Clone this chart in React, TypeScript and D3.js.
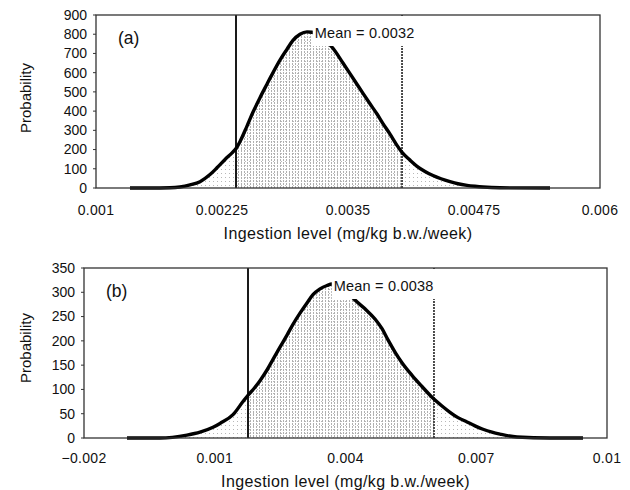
import React from 'react';
import * as d3 from 'd3';

// panel (a)
const xA = [0.001337, 0.001536, 0.001734, 0.001833, 0.001933, 0.002032, 0.002131, 0.0022, 0.00228, 0.002359, 0.002389, 0.002429, 0.002498, 0.002558, 0.002627, 0.002696, 0.002756, 0.002825, 0.002895, 0.002954, 0.003024, 0.003093, 0.003143, 0.003222, 0.003351, 0.00345, 0.00352, 0.003589, 0.003649, 0.003718, 0.003788, 0.003847, 0.003917, 0.003986, 0.004036, 0.004115, 0.004185, 0.004264, 0.004343, 0.004423, 0.004512, 0.004591, 0.004681, 0.00476, 0.004839, 0.005008, 0.005504];
const probA = [0, 0, 1, 5, 16, 33, 70, 105, 148, 188, 205, 242, 322, 395, 470, 540, 600, 665, 722, 768, 800, 812, 810, 790, 727, 650, 595, 540, 492, 438, 385, 335, 280, 222, 185, 145, 113, 86, 65, 48, 33, 22, 14, 9, 5, 1, 0];
const xTicksA = [0.001, 0.00225, 0.0035, 0.00475, 0.006];
const xTickLabelsA = ['0.001', '0.00225', '0.0035', '0.00475', '0.006'];
const yTicksA = [0, 100, 200, 300, 400, 500, 600, 700, 800, 900];
const boundsA = [0.002389, 0.004036];
const meanA = 0.0032;

// panel (b)
const xB = [-0.001013, -0.000256, 0.000363, 0.000662, 0.00096, 0.00112, 0.001419, 0.001648, 0.001763, 0.001901, 0.002038, 0.002199, 0.002337, 0.002497, 0.002658, 0.002795, 0.002956, 0.003117, 0.003254, 0.003415, 0.003576, 0.00369, 0.003874, 0.004034, 0.004218, 0.004447, 0.004677, 0.004838, 0.004975, 0.005136, 0.005296, 0.005526, 0.005755, 0.005985, 0.006214, 0.006398, 0.006581, 0.006788, 0.006971, 0.007155, 0.007361, 0.007545, 0.007935, 0.008692, 0.009449];
const probB = [0, 0, 6, 12, 22, 30, 48, 75, 88, 102, 118, 140, 162, 187, 212, 234, 257, 278, 295, 307, 314, 317, 314, 302, 284, 266, 245, 225, 202, 177, 155, 129, 106, 84, 66, 53, 42, 33, 25, 18, 12, 8, 2, 0, 0];
const xTicksB = [-0.002, 0.001, 0.004, 0.007, 0.01];
const xTickLabelsB = ['\u22120.002', '0.001', '0.004', '0.007', '0.01'];
const yTicksB = [0, 50, 100, 150, 200, 250, 300, 350];
const boundsB = [0.001763, 0.00603];
const meanB = 0.0038;

const FONT = '"Liberation Sans", Arial, sans-serif';

type PanelProps = {
  id: string;
  tag: string;
  xs: number[];
  ys: number[];
  xTicks: number[];
  xTickLabels: string[];
  yTicks: number[];
  bounds: number[];
  mean: number;
  left: number;
  right: number;
  top: number;
  bottom: number;
  tickLabelY: number;
  titleY: number;
  yTitleY: number;
};

const Panel = (p: PanelProps) => {
  const x = d3.scaleLinear().domain([p.xTicks[0], p.xTicks[p.xTicks.length - 1]]).range([p.left, p.right]);
  const y = d3.scaleLinear().domain([0, p.yTicks[p.yTicks.length - 1]]).range([p.bottom, p.top]);
  const pts = p.xs.map((v, i) => [v, p.ys[i]] as [number, number]);

  const line = d3.line<[number, number]>().x(d => x(d[0])).y(d => y(d[1])).curve(d3.curveMonotoneX);
  const area = d3.area<[number, number]>().x(d => x(d[0])).y0(y(0)).y1(d => y(d[1])).curve(d3.curveMonotoneX);

  const x0 = x(p.bounds[0]);
  const x1 = x(p.bounds[1]);
  const textX = x(p.mean) - 3;
  const boxBottom = p.top + 31;

  return (
    <g>
      <defs>
        <clipPath id={`mid-${p.id}`}>
          <rect x={x0} y={p.top} width={x1 - x0} height={p.bottom - p.top} />
        </clipPath>
      </defs>

      {/* light stipple under whole curve, denser between the bounds */}
      <path d={area(pts) || ''} fill="url(#sparse)" />
      <path d={area(pts) || ''} fill="url(#dense)" clipPath={`url(#mid-${p.id})`} />

      <line x1={x0} x2={x0} y1={p.top} y2={p.bottom} stroke="#1a1a1a" strokeWidth={2} />
      <line x1={x1} x2={x1} y1={p.top} y2={p.bottom} stroke="#3a3a3a" strokeWidth={1.8} strokeDasharray="2 1" />

      <path d={line(pts) || ''} fill="none" stroke="#000" strokeWidth={3.4} strokeLinejoin="round" />

      {/* mean label, white box hides what is under it */}
      <rect x={textX - 2} y={p.top + 1} width={104} height={boxBottom - p.top - 1} fill="#fff" />
      <text x={textX} y={p.top + 23} fontSize={14.5} letterSpacing={0.2} fontFamily={FONT} fill="#111">
        Mean = {p.mean}
      </text>

      <rect x={p.left} y={p.top} width={p.right - p.left} height={p.bottom - p.top} fill="none" stroke="#333" strokeWidth={1.3} />

      <text x={p.left + 22} y={p.top + 29} fontSize={17.5} fontFamily={FONT} fill="#111">{p.tag}</text>

      {p.yTicks.map(t => (
        <g key={t}>
          <line x1={p.left - 3} x2={p.left} y1={y(t)} y2={y(t)} stroke="#333" />
          <text x={p.left - 9} y={y(t)} dy="0.35em" textAnchor="end" fontSize={14} fontFamily={FONT} fill="#111">{t}</text>
        </g>
      ))}

      {p.xTicks.map((t, i) => (
        <text key={t} x={x(t)} y={p.tickLabelY} textAnchor="middle" fontSize={14} letterSpacing={0.3} fontFamily={FONT} fill="#111">
          {p.xTickLabels[i]}
        </text>
      ))}

      <text x={(p.left + p.right) / 2} y={p.titleY} textAnchor="middle" fontSize={16} letterSpacing={0.4} fontFamily={FONT} fill="#111">
        Ingestion level (mg/kg b.w./week)
      </text>
      <text transform={`translate(31,${p.yTitleY}) rotate(-90)`} textAnchor="middle" fontSize={15} fontFamily={FONT} fill="#111">
        Probability
      </text>
    </g>
  );
};

export default function App() {
  return (
    <svg width={630} height={490} style={{ position: 'absolute', left: 0, top: 0, background: '#fff' }}>
      <defs>
        <pattern id="dense" width={3} height={3} patternUnits="userSpaceOnUse">
          <rect x={1} y={0} width={1} height={2} fill="#b0b0b0" />
        </pattern>
        <pattern id="sparse" width={4} height={4} patternUnits="userSpaceOnUse">
          <rect x={1} y={1} width={1} height={1} fill="#b8b8b8" />
        </pattern>
      </defs>
      <Panel id="a" tag="(a)" xs={xA} ys={probA} xTicks={xTicksA} xTickLabels={xTickLabelsA} yTicks={yTicksA}
        bounds={boundsA} mean={meanA} left={96} right={600} top={15} bottom={188} tickLabelY={215} titleY={239} yTitleY={98} />
      <Panel id="b" tag="(b)" xs={xB} ys={probB} xTicks={xTicksB} xTickLabels={xTickLabelsB} yTicks={yTicksB}
        bounds={boundsB} mean={meanB} left={84} right={607} top={268} bottom={438} tickLabelY={463} titleY={487} yTitleY={348} />
    </svg>
  );
}
